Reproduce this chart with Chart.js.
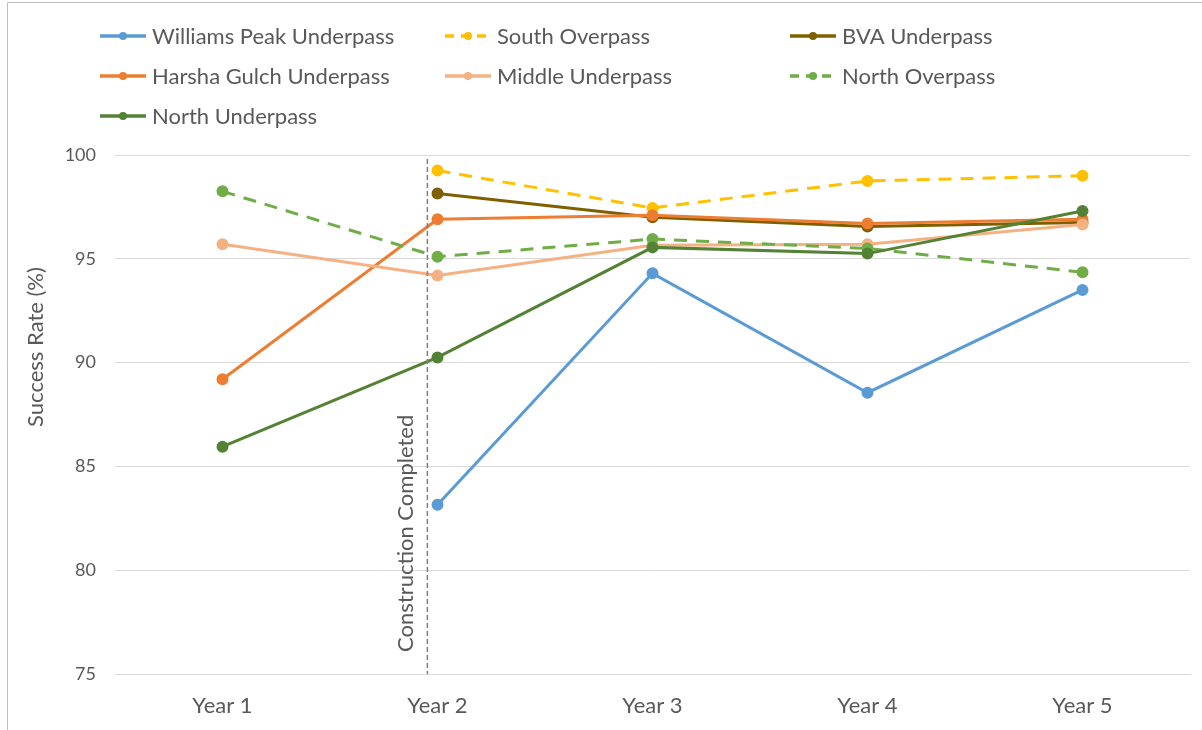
<!DOCTYPE html>
<html>
<head>
<meta charset="utf-8">
<script src="https://cdn.jsdelivr.net/npm/chart.js@4.4.1/dist/chart.umd.min.js"></script>
<style>
  html, body { margin: 0; padding: 0; background: #ffffff; }
  canvas { display: block; }
</style>
</head>
<body>
<canvas id="lineChart" width="1202" height="730"></canvas>
<script>
// Data
const years = ["Year 1", "Year 2", "Year 3", "Year 4", "Year 5"];
const yTicks = [75, 80, 85, 90, 95, 100];
const williamsPeak = [null, 83.15, 94.3, 88.55, 93.5];
const southOverpass = [null, 99.25, 97.45, 98.75, 99.0];
const bvaUnderpass = [null, 98.15, 97.0, 96.55, 96.75];
const harshaGulch = [89.2, 96.9, 97.1, 96.7, 96.9];
const middleUnderpass = [95.7, 94.2, 95.65, 95.7, 96.65];
const northOverpass = [98.25, 95.1, 95.95, 95.5, 94.35];
const northUnderpass = [85.95, 90.25, 95.55, 95.25, 97.3];
const constructionAt = 0.953; // category index where the dashed marker sits

const FONT = "Lato";
const TEXT = "#595959";

function series(label, data, color, dashed) {
  return {
    label: label,
    data: data,
    borderColor: color,
    backgroundColor: color,
    pointBackgroundColor: color,
    pointBorderColor: color,
    borderWidth: 3,
    pointRadius: 4.5,
    pointHoverRadius: 4.5,
    borderDash: dashed ? [13, 9] : [],
    tension: 0,
    spanGaps: false,
  };
}

const datasets = [
  series("Williams Peak Underpass", williamsPeak, "#5B9BD5", false),
  series("South Overpass", southOverpass, "#FFC000", true),
  series("BVA Underpass", bvaUnderpass, "#7F6000", false),
  series("Harsha Gulch Underpass", harshaGulch, "#ED7D31", false),
  series("Middle Underpass", middleUnderpass, "#F4B183", false),
  series("North Overpass", northOverpass, "#70AD47", true),
  series("North Underpass", northUnderpass, "#548235", false),
];
// drawing order: put the first series on top like the original
datasets.forEach((d, i) => (d.order = datasets.length - i));

// Legend in three fixed columns, plus frame, axis title and construction marker
const decorations = {
  id: "decorations",
  beforeDraw(chart) {
    const ctx = chart.ctx;
    ctx.save();
    ctx.strokeStyle = "#bfbfbf";
    ctx.lineWidth = 1;
    ctx.beginPath();
    ctx.moveTo(7.5, chart.height);
    ctx.lineTo(7.5, 2.5);
    ctx.lineTo(chart.width, 2.5);
    ctx.stroke();
    ctx.restore();
  },
  afterDatasetsDraw(chart) {
    const ctx = chart.ctx;
    const area = chart.chartArea;
    const x = chart.scales.x.getPixelForValue(constructionAt);
    ctx.save();
    ctx.strokeStyle = "#7f7f7f";
    ctx.lineWidth = 1.5;
    ctx.setLineDash([5, 3]);
    ctx.beginPath();
    ctx.moveTo(x, area.top + 4);
    ctx.lineTo(x, area.bottom);
    ctx.stroke();
    ctx.setLineDash([]);
    ctx.translate(x - 21, area.bottom - 22);
    ctx.rotate(-Math.PI / 2);
    ctx.fillStyle = TEXT;
    ctx.font = "22px " + FONT;
    ctx.textAlign = "left";
    ctx.textBaseline = "middle";
    ctx.fillText("Construction Completed", 0, 0);
    ctx.restore();
  },
  afterDraw(chart) {
    const ctx = chart.ctx;
    ctx.save();
    // y axis title
    ctx.translate(36, 347);
    ctx.rotate(-Math.PI / 2);
    ctx.fillStyle = TEXT;
    ctx.font = "22px " + FONT;
    ctx.textAlign = "center";
    ctx.textBaseline = "middle";
    ctx.fillText("Success Rate (%)", 0, 0);
    ctx.restore();

    const cols = [100, 445, 790];
    const rows = [36, 76, 116];
    chart.data.datasets.forEach((d, i) => {
      const cx = cols[i % 3];
      const cy = rows[Math.floor(i / 3)];
      ctx.save();
      ctx.strokeStyle = d.borderColor;
      ctx.fillStyle = d.borderColor;
      ctx.lineWidth = 3.5;
      if (d.borderDash.length) ctx.setLineDash([9, 7]);
      ctx.beginPath();
      ctx.moveTo(cx, cy);
      ctx.lineTo(cx + 46, cy);
      ctx.stroke();
      ctx.setLineDash([]);
      ctx.beginPath();
      ctx.arc(cx + 23, cy, 4, 0, Math.PI * 2);
      ctx.fill();
      ctx.fillStyle = TEXT;
      ctx.font = "22px " + FONT;
      ctx.textAlign = "left";
      ctx.textBaseline = "middle";
      ctx.fillText(d.label, cx + 52, cy + 1);
      ctx.restore();
    });
  },
};

const ctx = document.getElementById("lineChart").getContext("2d");
new Chart(ctx, {
  type: "line",
  data: { labels: years, datasets: datasets },
  options: {
    responsive: false,
    animation: false,
    layout: { padding: { top: 155, right: 12, bottom: 0, left: 0 } },
    plugins: {
      legend: { display: false },
      tooltip: { enabled: false },
    },
    scales: {
      x: {
        offset: true,
        afterFit(scale) {
          scale.height = 56;
        },
        grid: { display: false, drawTicks: false },
        border: { color: "#d9d9d9", width: 1 },
        ticks: { color: TEXT, font: { family: FONT, size: 22 }, padding: 19 },
      },
      y: {
        min: yTicks[0],
        max: yTicks[yTicks.length - 1],
        afterBuildTicks(scale) {
          scale.ticks = yTicks.map((v) => ({ value: v }));
        },
        afterFit(scale) {
          scale.width = 115;
        },
        grid: { color: "#d9d9d9", lineWidth: 1, drawTicks: false },
        border: { display: false },
        ticks: { color: TEXT, font: { family: FONT, size: 18 }, padding: 19 },
      },
    },
  },
  plugins: [decorations],
});
</script>
</body>
</html>
